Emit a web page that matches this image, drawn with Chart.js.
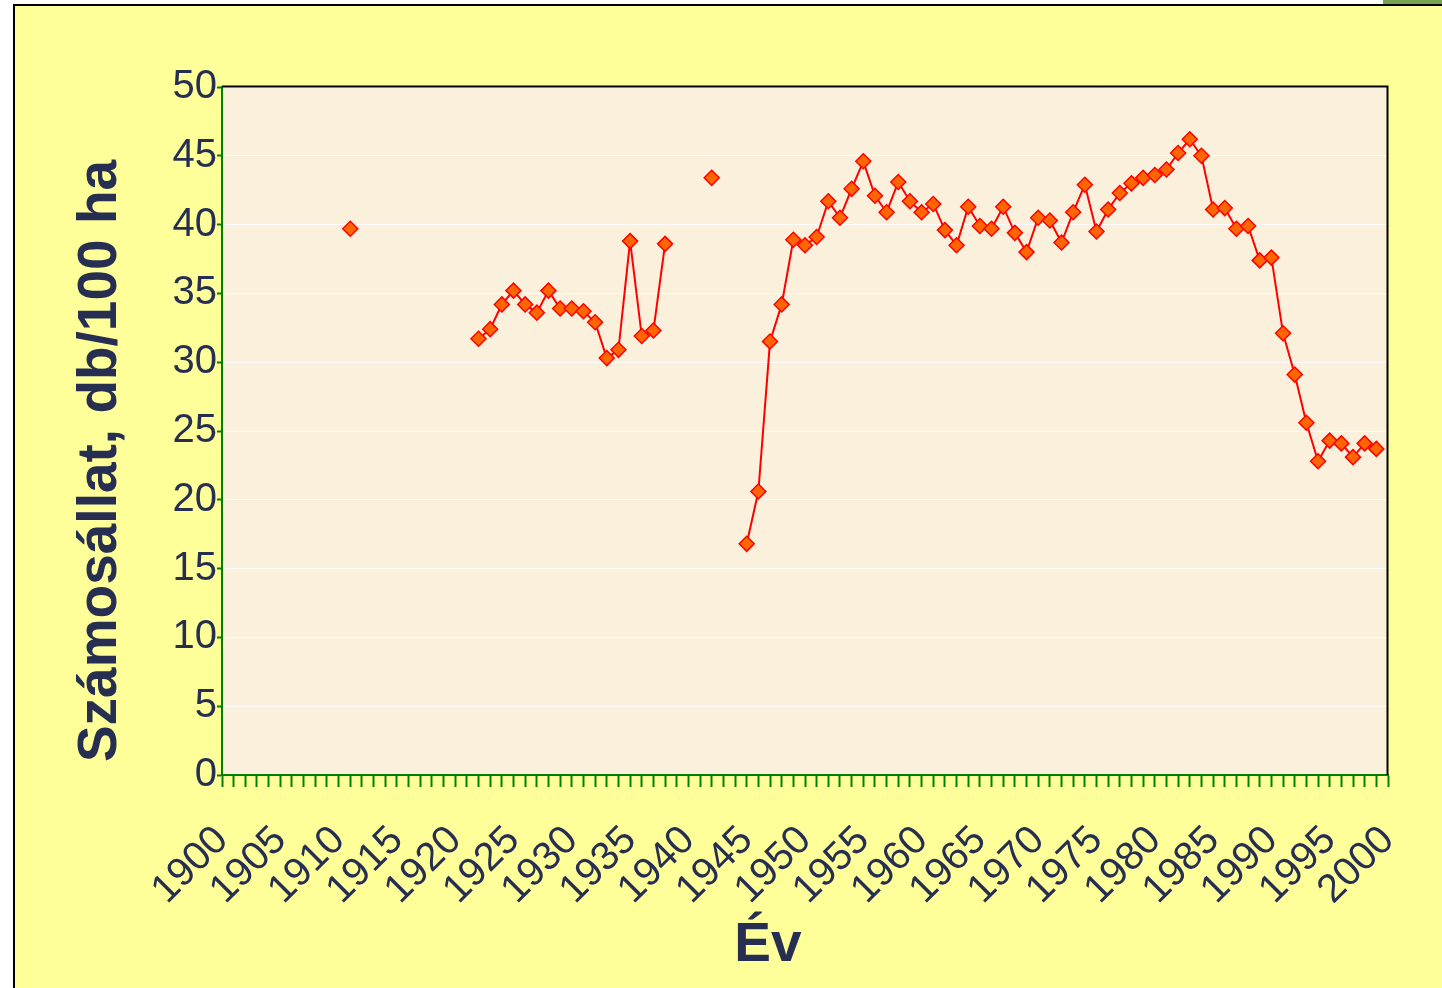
<!DOCTYPE html>
<html>
<head>
<meta charset="utf-8">
<script src="https://cdn.jsdelivr.net/npm/chart.js@4.4.0/dist/chart.umd.min.js"></script>
<style>
  html, body { margin:0; padding:0; background:#ffffff; width:1442px; height:988px; overflow:hidden; }
  #frame { position:absolute; left:13px; top:4px; width:1450px; height:1000px; background:#FFFF99;
           border-left:2.5px solid #000; border-top:2.5px solid #000; }
  #corner { position:absolute; left:1383px; top:0; width:59px; height:4px; background:#77A24F; }
  #c { position:absolute; left:0; top:0; }
</style>
</head>
<body>
<div id="frame"></div>
<div id="corner"></div>
<canvas id="c" width="1442" height="988"></canvas>
<script>
// ---- data ----
const firstYear = 1900;
const lastYear = 2000;
const categories = [];
for (let y = firstYear; y <= lastYear; y++) categories.push(String(y));

const tickLabels = ['1900','1905','1910','1915','1920','1925','1930','1935','1940','1945','1950',
                    '1955','1960','1965','1970','1975','1980','1985','1990','1995','2000'];

const obsYears = [1911,
  1922,1923,1924,1925,1926,1927,1928,1929,1930,1931,1932,1933,1934,1935,1936,1937,1938,
  1942,
  1945,1946,1947,1948,1949,1950,1951,1952,1953,1954,1955,1956,1957,1958,1959,1960,1961,1962,
  1963,1964,1965,1966,1967,1968,1969,1970,1971,1972,1973,1974,1975,1976,1977,1978,1979,1980,
  1981,1982,1983,1984,1985,1986,1987,1988,1989,1990,1991,1992,1993,1994,1995,1996,1997,1998,1999];

const obsValues = [39.7,
  31.7,32.4,34.2,35.2,34.2,33.6,35.2,33.9,33.9,33.7,32.9,30.3,30.9,38.8,31.9,32.3,38.6,
  43.4,
  16.8,20.6,31.5,34.2,38.9,38.5,39.1,41.7,40.5,42.6,44.6,42.1,40.9,43.1,41.7,40.9,41.5,39.6,
  38.5,41.3,39.9,39.7,41.3,39.4,38.0,40.5,40.3,38.7,40.9,42.9,39.5,41.1,42.3,43.0,43.4,43.6,
  44.0,45.2,46.2,45.0,41.1,41.2,39.7,39.9,37.4,37.6,32.1,29.1,25.6,22.8,24.3,24.1,23.1,24.1,23.7];

const yMin = 0, yMax = 50, yStep = 5;
const yTitle = 'Számosállat, db/100 ha';
const xTitle = 'Év';

const series = categories.map(c => {
  const i = obsYears.indexOf(Number(c));
  return i < 0 ? null : obsValues[i];
});

// ---- styles ----
const textColor = '#262F52';
const fontFamily = '"Liberation Sans", Arial, sans-serif';

const plotBg = {
  id: 'plotBg',
  beforeDraw(chart) {
    const {ctx, chartArea: a} = chart;
    ctx.save();
    ctx.fillStyle = '#FBF0DC';
    ctx.fillRect(a.left, a.top, a.right - a.left, a.bottom - a.top);
    ctx.restore();
  }
};

const plotFrame = {
  id: 'plotFrame',
  beforeDatasetsDraw(chart) {
    const {ctx, chartArea: a} = chart;
    ctx.save();
    ctx.strokeStyle = '#000';
    ctx.lineWidth = 2;
    ctx.beginPath();
    ctx.moveTo(a.left, a.top - 0.5);
    ctx.lineTo(a.right - 0.5, a.top - 0.5);
    ctx.lineTo(a.right - 0.5, a.bottom);
    ctx.stroke();
    ctx.restore();
  }
};

const axisTitles = {
  id: 'axisTitles',
  afterDraw(chart) {
    const ctx = chart.ctx;
    ctx.save();
    ctx.fillStyle = textColor;
    ctx.font = 'bold 55px ' + fontFamily;
    ctx.textAlign = 'center';
    ctx.textBaseline = 'alphabetic';
    ctx.save();
    ctx.translate(116, 461);
    ctx.rotate(-Math.PI / 2);
    ctx.fillText(yTitle, 0, 0);
    ctx.restore();
    ctx.fillText(xTitle, 768, 961);
    ctx.restore();
  }
};

new Chart(document.getElementById('c'), {
  type: 'line',
  data: {
    labels: categories,
    datasets: [{
      data: series,
      borderColor: '#FF0000',
      borderWidth: 2,
      pointStyle: 'rectRot',
      pointRadius: 7.5,
      pointHoverRadius: 7.5,
      pointBackgroundColor: '#FF6600',
      pointBorderColor: '#FF0000',
      pointBorderWidth: 1.5,
      spanGaps: false,
      tension: 0,
      fill: false
    }]
  },
  options: {
    responsive: false,
    animation: false,
    devicePixelRatio: 1,
    layout: { padding: { left: 0, top: 87, right: 54, bottom: 0 } },
    plugins: { legend: { display: false }, tooltip: { enabled: false } },
    scales: {
      x: {
        type: 'category',
        offset: false,
        grid: { display: true, drawOnChartArea: false, drawTicks: true, tickLength: 12,
                tickColor: '#008000', tickWidth: 2, color: '#008000' },
        border: { display: true, color: '#008000', width: 2 },
        ticks: {
          autoSkip: false, maxRotation: 45, minRotation: 45, padding: 30,
          color: textColor, font: { family: fontFamily, size: 40 },
          callback: function(v, i) { const l = categories[i]; return tickLabels.includes(l) ? l : ''; }
        },
        afterFit(s) { s.height = 213; s.paddingRight = 0; s.paddingLeft = 0; }
      },
      y: {
        min: yMin, max: yMax,
        ticks: { stepSize: yStep, padding: 0, color: textColor, font: { family: fontFamily, size: 40 } },
        grid: { color: 'rgba(255,255,255,0.9)', lineWidth: 1, tickLength: 5, tickColor: '#008000', tickWidth: 2 },
        border: { display: true, color: '#008000', width: 2 },
        afterFit(s) { s.width = 222; s.paddingTop = 0; s.paddingBottom = 0; }
      }
    }
  },
  plugins: [plotBg, plotFrame, axisTitles]
});
</script>
</body>
</html>
